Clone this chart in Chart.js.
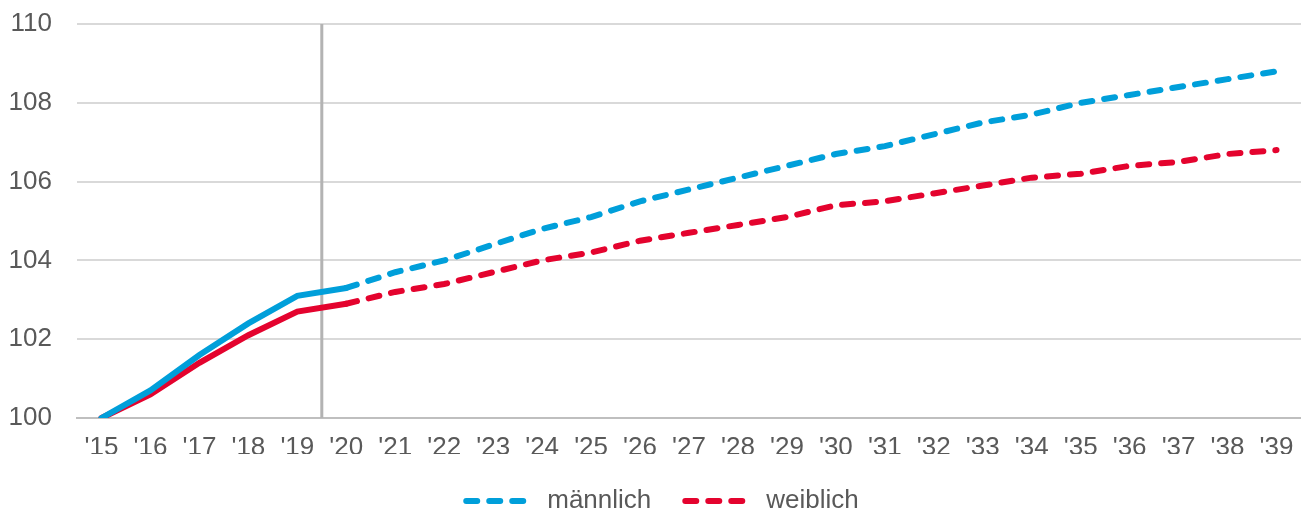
<!DOCTYPE html>
<html>
<head>
<meta charset="utf-8">
<script src="https://cdn.jsdelivr.net/npm/chart.js@4/dist/chart.umd.min.js"></script>
<style>
  html, body { margin: 0; padding: 0; background: #fff; overflow: hidden; }
  #wrap { width: 1301px; height: 516px; }
</style>
</head>
<body>
<div id="wrap"><canvas id="myChart"></canvas></div>
<script>
const years = ["'15","'16","'17","'18","'19","'20","'21","'22","'23","'24","'25","'26","'27","'28","'29","'30","'31","'32","'33","'34","'35","'36","'37","'38","'39"];
const maleValues = [100, 100.7, 101.6, 102.4, 103.1, 103.3, 103.7, 104.0, 104.4, 104.8, 105.1, 105.5, 105.8, 106.1, 106.4, 106.7, 106.9, 107.2, 107.5, 107.7, 108.0, 108.2, 108.4, 108.6, 108.8];
const femaleValues = [100, 100.6, 101.4, 102.1, 102.7, 102.9, 103.2, 103.4, 103.7, 104.0, 104.2, 104.5, 104.7, 104.9, 105.1, 105.4, 105.5, 105.7, 105.9, 106.1, 106.2, 106.4, 106.5, 106.7, 106.8];
const yTicks = [100, 102, 104, 106, 108, 110];
const lastActualIndex = 5; // '20: solid up to here, forecast after

const dash = [11, 12];
const fontFamily = "'Liberation Sans', Arial, sans-serif";

// vertical marker between '19 and '20
const markerLine = {
  id: 'markerLine',
  beforeDatasetsDraw(chart) {
    const x = chart.scales.x;
    const area = chart.chartArea;
    const px = (x.getPixelForValue(4) + x.getPixelForValue(5)) / 2;
    const ctx = chart.ctx;
    ctx.save();
    ctx.strokeStyle = '#b3b3b3';
    ctx.lineWidth = 3;
    ctx.beginPath();
    ctx.moveTo(px, area.top);
    ctx.lineTo(px, area.bottom);
    ctx.stroke();
    ctx.restore();
  }
};

// legend sits a bit right of centre in the original
const legendShift = {
  id: 'legendShift',
  afterLayout(chart) {
    if (chart.legend) {
      chart.legend.left += 8;
      chart.legend.right += 8;
    }
  }
};

function makeSet(label, data, color) {
  return {
    label: label,
    data: data,
    borderColor: color,
    backgroundColor: color,
    borderWidth: 6,
    pointRadius: 0,
    pointHoverRadius: 0,
    tension: 0,
    borderCapStyle: 'round',
    segment: {
      borderDash: ctx => ctx.p0DataIndex >= lastActualIndex ? dash : undefined
    }
  };
}

new Chart(document.getElementById('myChart').getContext('2d'), {
  type: 'line',
  data: {
    labels: years,
    datasets: [
      makeSet('männlich', maleValues, '#009fda'),
      makeSet('weiblich', femaleValues, '#e4032e')
    ]
  },
  options: {
    responsive: true,
    maintainAspectRatio: false,
    animation: false,
    layout: { autoPadding: false, padding: { left: 8, right: 0, top: 24, bottom: -8 } },
    plugins: {
      tooltip: { enabled: false },
      legend: {
        position: 'bottom',
        labels: {
          usePointStyle: true,
          pointStyleWidth: 68,
          padding: 34,
          color: '#595959',
          font: { family: fontFamily, size: 26 },
          generateLabels(chart) {
            return chart.data.datasets.map((ds, i) => ({
              text: ds.label,
              fillStyle: ds.borderColor,
              strokeStyle: ds.borderColor,
              lineWidth: 6,
              lineDash: dash,
              lineCap: 'round',
              pointStyle: 'line',
              hidden: false,
              datasetIndex: i,
              fontColor: '#595959'
            }));
          }
        }
      }
    },
    scales: {
      x: {
        offset: true,
        afterFit(scale) {
          scale.height = 36;
          scale.paddingLeft = 0;
          scale.paddingRight = 0;
        },
        grid: { display: false, drawTicks: false },
        border: { display: true, color: '#bfbfbf', width: 2 },
        ticks: {
          color: '#595959',
          padding: 14,
          maxRotation: 0,
          autoSkip: false,
          font: { family: fontFamily, size: 26 }
        }
      },
      y: {
        min: 100,
        max: 110,
        afterFit(scale) {
          scale.width = 69;
          scale.paddingTop = 0;
          scale.paddingBottom = 0;
        },
        afterBuildTicks(scale) {
          scale.ticks = yTicks.map(v => ({ value: v }));
        },
        grid: {
          color: ctx => ctx.tick && ctx.tick.value === 100 ? '#bfbfbf' : '#d9d9d9',
          lineWidth: 2,
          drawTicks: false
        },
        border: { display: false },
        ticks: {
          color: '#595959',
          padding: 25,
          font: { family: fontFamily, size: 26 }
        }
      }
    }
  },
  plugins: [markerLine, legendShift]
});
</script>
</body>
</html>
